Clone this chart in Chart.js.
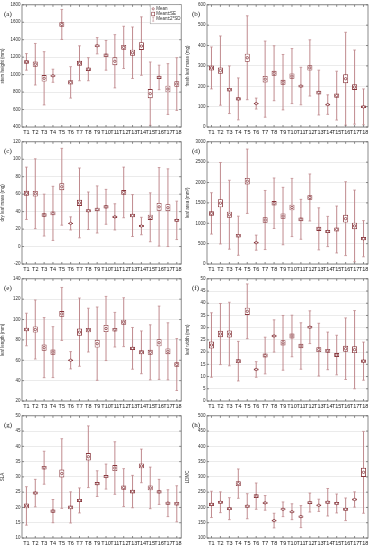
<!DOCTYPE html>
<html lang="en">
<head>
  <meta charset="UTF-8">
  <title>Leaf traits by treatment</title>
  <script src="https://cdn.jsdelivr.net/npm/chart.js"></script>
  <style>
    body { margin: 0; background: #fff; }
    #wrap { position: relative; width: 373px; height: 550px; background: #fff; overflow: hidden; }
    #wrap canvas { position: absolute; }
  </style>
</head>
<body>
  <div id="wrap"></div>

  <script>
    // Treatments
    const cats = ['T1','T2','T3','T4','T5','T6','T7','T8','T9','T10','T11','T12','T13','T14','T15','T16','T17','T18'];

    // (a) stem height (mm)
    const stemMean = [1146,1119,958,987,1575,911,1130,1062,1331,1221,1153,1312,1251,1327,782,968,835,892];
    const stemSE   = [20,30,38,12,26,25,28,20,15,20,45,28,35,45,52,18,38,32];
    const stem2SD  = [95,238,305,75,172,180,200,132,93,170,305,242,295,335,363,140,291,302];
    const stemTicks = [400, 1800, 200];

    // (b) fresh leaf mass (mg)
    const freshMean = [290,277,183,138,340,115,235,264,220,250,201,290,169,110,154,237,196,99];
    const freshSE   = [12,15,9,8,20,3,16,12,12,13,7,13,9,4,10,22,14,6];
    const fresh2SD  = [103,170,117,103,206,27,187,135,136,135,92,138,110,48,120,228,182,88];
    const freshTicks = [0, 600, 100];

    // (c) dry leaf mass (mg)
    const dryMean = [61,60.5,36,38,68.5,26.5,50,41,42.5,45.5,34,62,35.5,23.5,33.5,45.5,44.5,30];
    const drySE   = [2.8,3.2,2,2.2,4,0.7,3.5,1.8,2,1.8,1.2,2.8,2,1.2,3,4.5,4,1.5];
    const dry2SD  = [30,40,24,31,44,7.5,40,21.5,27,20,15,29,24,10,28,45,44.5,22];
    const dryTicks = [-20, 120, 20];

    // (d) leaf area (mm2)
    const areaMean = [1242,1492,1210,694,2032,524,1080,1492,1177,1387,1097,1633,863,798,847,1113,935,621];
    const areaSE   = [55,100,75,45,80,20,65,55,65,70,45,55,50,35,50,95,80,40];
    const area2SD  = [508,1000,846,480,790,185,725,620,705,714,490,577,516,371,576,907,880,444];
    const areaTicks = [0, 3000, 500];

    // (e) leaf length (mm)
    const lenMean = [90.2,90.2,72.4,68,105.5,60,87.6,89.6,76.3,91.2,90,97.4,71.7,67.8,67.8,77.2,68.8,55.8];
    const lenSE   = [1.8,3,3,2.5,2.8,0.8,3.5,2.2,3.8,3.5,1.8,2.5,1.5,2,2.5,3.5,2.8,2.2];
    const len2SD  = [16,29,29.5,25,26,8.5,33.5,21.5,36,31.5,17,24,20.5,21,27,36,28,25.5];
    const lenTicks = [20, 140, 20];

    // (f) leaf width (mm)
    const widMean = [22.9,27.4,27.4,16.3,36.7,12.9,18.6,26.6,23.8,26.6,22.5,30.2,21,20.5,18.8,21.4,21,16.3];
    const widSE   = [1.4,1.3,1.4,0.8,1.5,0.4,0.8,0.5,1.1,1,0.9,0.5,1,0.8,0.8,1.2,1.4,0.7];
    const wid2SD  = [13.2,12.5,13,8.1,11.2,3.2,7.5,6.6,11.2,8.5,9.5,6.7,10.8,7.7,8.1,12.6,16,7.8];
    const widTicks = [0, 50, 5];

    // (g) SLA
    const slaMean = [20.5,24.7,33,18.8,31.1,20,22.3,36.6,27.8,30.1,32.9,26.5,25.2,33.6,26.4,25.1,21.4,21.2];
    const slaSE   = [0.8,0.5,0.6,0.5,1.3,0.6,0.5,1.2,0.5,0.5,1,0.7,0.6,0.8,0.8,0.5,0.5,0.6];
    const sla2SD  = [6.3,4.5,5.4,3.8,11.4,5.1,4.1,10.1,4.2,4.1,8.6,6.2,5.3,5.5,6.8,4.1,4.4,5.9];
    const slaTicks = [10, 50, 5];

    // (h) LDMC
    const ldmcMean = [210,217,196,278,204,237,215,157,194,186,170,216,207,217,213,194,226,315];
    const ldmcSE   = [5,4.5,4.5,8,5,6,4,3,3.5,3.5,4,4.5,3,5,4.5,4.5,3.5,15];
    const ldmc2SD  = [43,34,36,48,41,43,24,24,24,26,36,31,20,45,31,37,25,134];
    const ldmcTicks = [100, 500, 50];

    const panels = [
      { tag: '(a)', title: 'stem height (mm)',     mean: stemMean,  se: stemSE,  sd: stem2SD,  t: stemTicks },
      { tag: '(b)', title: 'fresh leaf mass (mg)', mean: freshMean, se: freshSE, sd: fresh2SD, t: freshTicks },
      { tag: '(c)', title: 'dry leaf mass (mg)',   mean: dryMean,   se: drySE,   sd: dry2SD,   t: dryTicks },
      { tag: '(d)', title: 'leaf area (mm\u00b2)', mean: areaMean,  se: areaSE,  sd: area2SD,  t: areaTicks },
      { tag: '(e)', title: 'leaf length (mm)',     mean: lenMean,   se: lenSE,   sd: len2SD,   t: lenTicks },
      { tag: '(f)', title: 'leaf width (mm)',      mean: widMean,   se: widSE,   sd: wid2SD,   t: widTicks },
      { tag: '(g)', title: 'SLA',                  mean: slaMean,   se: slaSE,   sd: sla2SD,   t: slaTicks },
      { tag: '(h)', title: 'LDMC',                 mean: ldmcMean,  se: ldmcSE,  sd: ldmc2SD,  t: ldmcTicks }
    ];

    const whisk = '#c08a8e';
    const boxLine = '#86343a';

    Chart.defaults.font.family = '"Liberation Sans", Arial, sans-serif';

    // frame around the plot, small inside ticks, panel tag, legend for (a)
    const framePlugin = {
      id: 'frame',
      afterDraw(chart, args, opts) {
        const { ctx, chartArea: a, scales } = chart;
        ctx.save();
        ctx.strokeStyle = '#6f6f6f';
        ctx.lineWidth = 0.8;
        ctx.strokeRect(a.left, a.top, a.right - a.left, a.bottom - a.top);

        ctx.beginPath();
        scales.x.ticks.forEach((t, i) => {
          const x = scales.x.getPixelForTick(i);
          ctx.moveTo(x, a.top); ctx.lineTo(x, a.top + 2);
          ctx.moveTo(x, a.bottom); ctx.lineTo(x, a.bottom - 2);
        });
        scales.y.ticks.forEach((t, i) => {
          const y = scales.y.getPixelForTick(i);
          ctx.moveTo(a.right, y); ctx.lineTo(a.right - 2, y);
          ctx.moveTo(a.left, y); ctx.lineTo(a.left + 2, y);
        });
        ctx.stroke();

        ctx.fillStyle = '#222';
        ctx.font = '7px "Liberation Serif", serif';
        ctx.textBaseline = 'alphabetic';
        ctx.fillText(opts.tag, opts.tx, 16);

        if (opts.legend) {
          const lx = a.right - 31, ly = a.top;
          ctx.fillStyle = '#fff';
          ctx.fillRect(lx, ly, 31, 19);
          ctx.strokeStyle = '#999';
          ctx.lineWidth = 0.5;
          ctx.strokeRect(lx, ly, 31, 19);
          ctx.font = '4.5px "Liberation Sans", Arial, sans-serif';
          ctx.textBaseline = 'middle';
          const names = ['Mean', 'Mean\u00b1SE', 'Mean\u00b12*SD'];
          names.forEach((n, k) => {
            const y = ly + 4 + k * 5.2, sx = lx + 3;
            ctx.strokeStyle = boxLine;
            ctx.lineWidth = 0.6;
            if (k === 0) {
              ctx.beginPath(); ctx.arc(sx, y, 1.1, 0, Math.PI * 2); ctx.stroke();
            } else if (k === 1) {
              ctx.strokeRect(sx - 1.5, y - 1.8, 3, 3.6);
            } else {
              ctx.strokeStyle = whisk;
              ctx.beginPath();
              ctx.moveTo(sx, y - 2); ctx.lineTo(sx, y + 2);
              ctx.moveTo(sx - 1, y - 2); ctx.lineTo(sx + 1, y - 2);
              ctx.moveTo(sx - 1, y + 2); ctx.lineTo(sx + 1, y + 2);
              ctx.stroke();
            }
            ctx.fillStyle = '#333';
            ctx.fillText(n, lx + 6, y);
          });
        }
        ctx.restore();
      }
    };

    const wrap = document.getElementById('wrap');

    panels.forEach((p, i) => {
      const col = i % 2, row = Math.floor(i / 2);
      const cv = document.createElement('canvas');
      cv.width = col ? 188 : 186;
      cv.height = 137;
      cv.style.left = (col ? 185 : 0) + 'px';
      cv.style.top = (row * 137) + 'px';
      wrap.appendChild(cv);

      const hi = p.mean.map((m, k) => m + p.sd[k]);
      const lo = p.mean.map((m, k) => m - p.sd[k]);

      new Chart(cv, {
        type: 'bar',
        data: {
          labels: cats,
          datasets: [
            {
              type: 'line', label: 'Mean', data: p.mean, showLine: false,
              pointStyle: 'circle', pointRadius: 1.2, pointBorderWidth: 0.8,
              pointBorderColor: boxLine, pointBackgroundColor: '#fff', order: 0
            },
            {
              label: 'Mean±SE', data: p.mean.map((m, k) => [m - p.se[k], m + p.se[k]]),
              backgroundColor: '#fff', borderColor: boxLine, borderWidth: 0.9,
              borderSkipped: false, barThickness: 5, grouped: false, inflateAmount: 0, order: 1
            },
            {
              type: 'line', label: 'cap hi', data: hi, showLine: false,
              pointStyle: 'line', pointRadius: 1.3, pointBorderWidth: 0.8,
              pointBorderColor: whisk, order: 2
            },
            {
              type: 'line', label: 'cap lo', data: lo, showLine: false,
              pointStyle: 'line', pointRadius: 1.3, pointBorderWidth: 0.8,
              pointBorderColor: whisk, order: 2
            },
            {
              label: 'Mean±2*SD', data: lo.map((v, k) => [v, hi[k]]),
              backgroundColor: whisk, barThickness: 1, grouped: false, inflateAmount: 0, order: 3
            }
          ]
        },
        options: {
          responsive: false,
          animation: false,
          events: [],
          layout: { padding: { top: 4, right: col ? 5 : 3, left: 0, bottom: 0 } },
          plugins: {
            legend: { display: false },
            tooltip: { enabled: false },
            frame: { tag: p.tag, tx: col ? 7 : 4, legend: i === 0 }
          },
          scales: {
            x: {
              offset: true,
              grid: { display: false, drawTicks: false, tickLength: 0 },
              border: { display: false },
              ticks: { font: { size: 5.5 }, color: '#222', padding: 2, maxRotation: 0, minRotation: 0, autoSkip: false },
              afterFit(s) { s.height = 10; }
            },
            y: {
              min: p.t[0], max: p.t[1],
              ticks: { stepSize: p.t[2], font: { size: 4.5 }, color: '#333', padding: 1.5, callback: v => String(v) },
              grid: { color: '#dedede', lineWidth: 0.6, tickLength: 0 },
              border: { display: false },
              title: { display: true, text: p.title, font: { size: 4.5 }, color: '#333', padding: { top: 0, bottom: 1 } },
              afterFit(s) { s.width = 22; }
            }
          }
        },
        plugins: [framePlugin]
      });
    });
  </script>
</body>
</html>
